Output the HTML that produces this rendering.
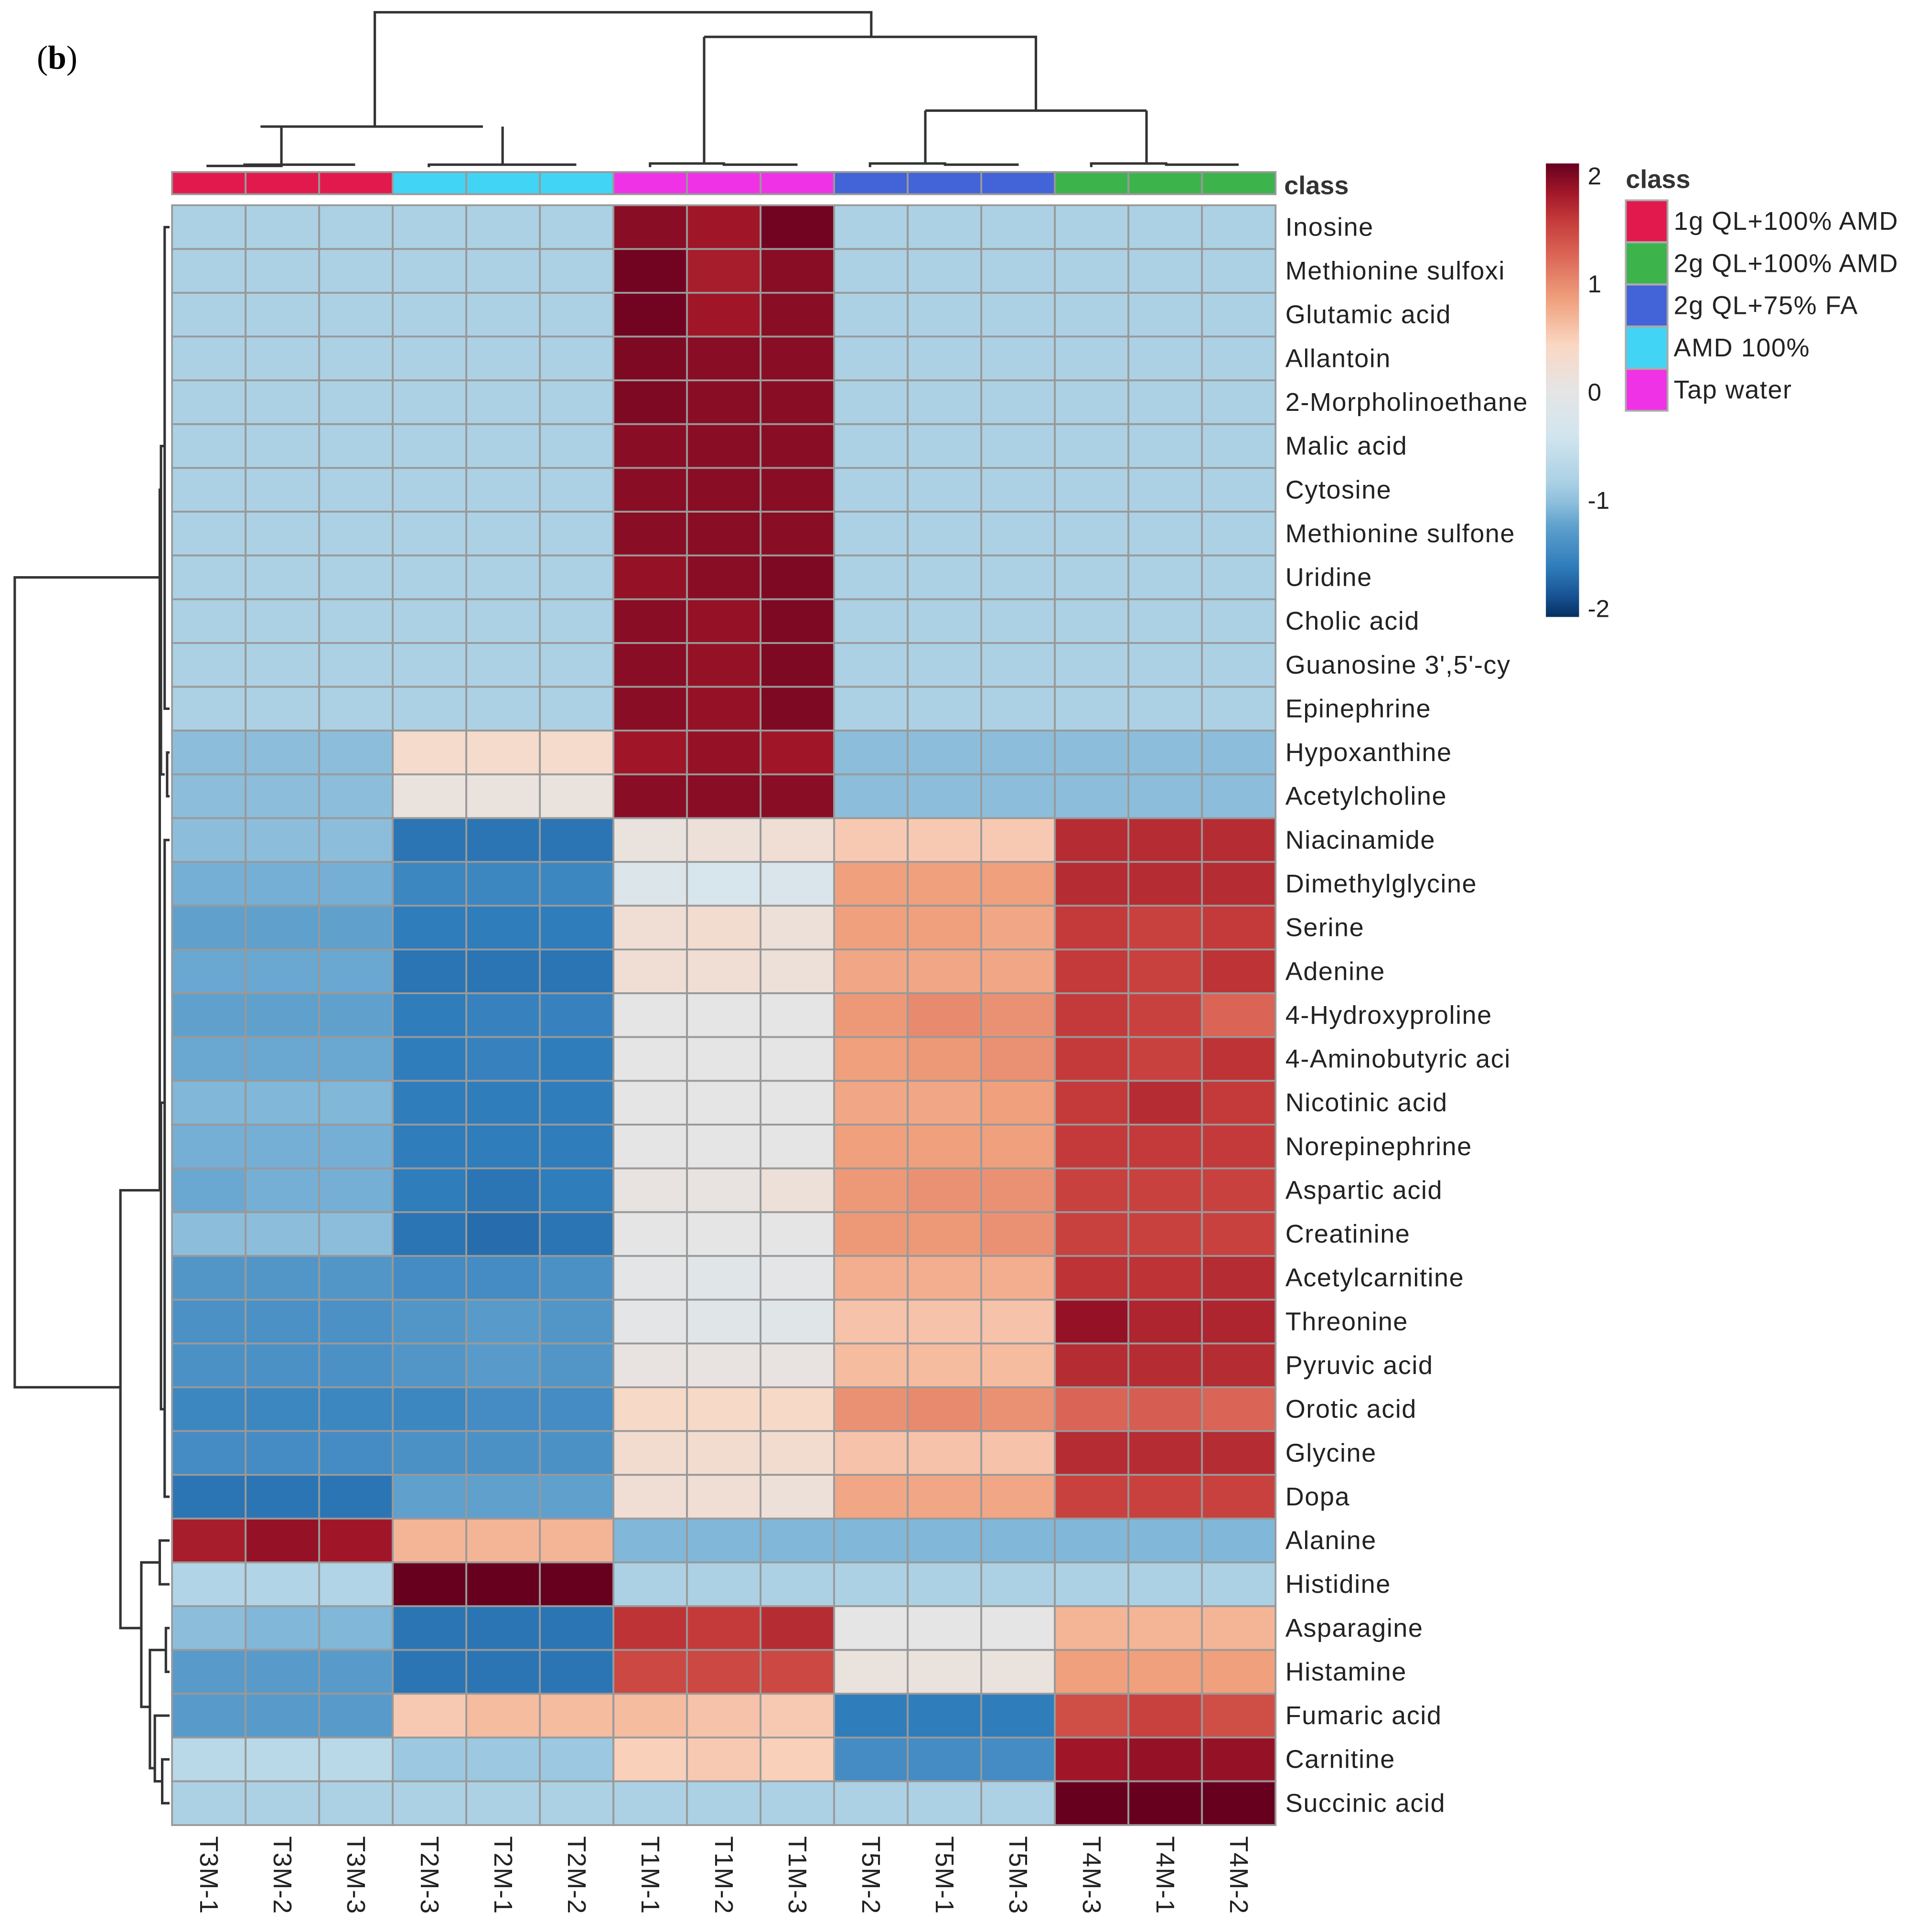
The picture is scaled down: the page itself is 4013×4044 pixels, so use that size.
<!DOCTYPE html>
<html><head><meta charset="utf-8"><style>
html,body{margin:0;padding:0;background:#fff;}
svg{display:block;}
text{font-family:"Liberation Sans",sans-serif;}
</style></head><body>
<svg id="chart" width="4013" height="4044" viewBox="0 0 1560 1572" preserveAspectRatio="none" xmlns="http://www.w3.org/2000/svg">
<text x="30" y="56" style="font-family:'Liberation Serif',serif" font-size="27">(<tspan font-weight="bold">b</tspan>)</text>
<g id="dendro-top" fill="none" stroke="#333" stroke-width="2">
<path d="M169,136 V135 H229 V136 M199,136 V134 H289 M229,134 V103 M349,136 V134 H409 V134 H469 M409,134 V103 M212,103 H393 M305,103 V10 H709 V30 M529,136 V133 H589 V134 H649 M573,133 V30 M573,30 H843 V90 M708,136 V133 H769 V134 H829 M753,133 V90 M888,136 V133 H949 V134 H1008 M933,133 V90 M753,90 H933"/>
</g>
<g id="dendro-left" fill="none" stroke="#333" stroke-width="2"></g>
<g id="classbar"></g>
<text x="1045" y="158" font-size="21" font-weight="bold" fill="#333">class</text>
<g id="cells"></g>
<g id="rowlabels"></g>
<g id="collabels"></g>
<g id="legend"></g>
<g id="classlegend"></g>
</svg>
<script>
const columns = ["T3M-1","T3M-2","T3M-3","T2M-3","T2M-1","T2M-2","T1M-1","T1M-2","T1M-3","T5M-2","T5M-1","T5M-3","T4M-3","T4M-1","T4M-2"];
const columnClass = [0,0,0,3,3,3,4,4,4,2,2,2,1,1,1];
const classNames = ["1g QL+100% AMD","2g QL+100% AMD","2g QL+75% FA","AMD 100%","Tap water"];
const classColors = ["#e2194d","#3cb44b","#4363d8","#42d4f4","#f032e6"];
const rows = ["Inosine","Methionine sulfoxi","Glutamic acid","Allantoin","2-Morpholinoethane","Malic acid","Cytosine","Methionine sulfone","Uridine","Cholic acid","Guanosine 3',5'-cy","Epinephrine","Hypoxanthine","Acetylcholine","Niacinamide","Dimethylglycine","Serine","Adenine","4-Hydroxyproline","4-Aminobutyric aci","Nicotinic acid","Norepinephrine","Aspartic acid","Creatinine","Acetylcarnitine","Threonine","Pyruvic acid","Orotic acid","Glycine","Dopa","Alanine","Histidine","Asparagine","Histamine","Fumaric acid","Carnitine","Succinic acid"];
const values = [
[-0.8,-0.8,-0.8,-0.8,-0.8,-0.8,1.85,1.75,1.95,-0.8,-0.8,-0.8,-0.8,-0.8,-0.8],
[-0.8,-0.8,-0.8,-0.8,-0.8,-0.8,1.95,1.7,1.85,-0.8,-0.8,-0.8,-0.8,-0.8,-0.8],
[-0.8,-0.8,-0.8,-0.8,-0.8,-0.8,1.95,1.75,1.85,-0.8,-0.8,-0.8,-0.8,-0.8,-0.8],
[-0.8,-0.8,-0.8,-0.8,-0.8,-0.8,1.9,1.85,1.85,-0.8,-0.8,-0.8,-0.8,-0.8,-0.8],
[-0.8,-0.8,-0.8,-0.8,-0.8,-0.8,1.9,1.85,1.85,-0.8,-0.8,-0.8,-0.8,-0.8,-0.8],
[-0.8,-0.8,-0.8,-0.8,-0.8,-0.8,1.85,1.85,1.85,-0.8,-0.8,-0.8,-0.8,-0.8,-0.8],
[-0.8,-0.8,-0.8,-0.8,-0.8,-0.8,1.85,1.85,1.85,-0.8,-0.8,-0.8,-0.8,-0.8,-0.8],
[-0.8,-0.8,-0.8,-0.8,-0.8,-0.8,1.85,1.85,1.85,-0.8,-0.8,-0.8,-0.8,-0.8,-0.8],
[-0.8,-0.8,-0.8,-0.8,-0.8,-0.8,1.8,1.85,1.9,-0.8,-0.8,-0.8,-0.8,-0.8,-0.8],
[-0.8,-0.8,-0.8,-0.8,-0.8,-0.8,1.85,1.8,1.9,-0.8,-0.8,-0.8,-0.8,-0.8,-0.8],
[-0.8,-0.8,-0.8,-0.8,-0.8,-0.8,1.85,1.8,1.9,-0.8,-0.8,-0.8,-0.8,-0.8,-0.8],
[-0.8,-0.8,-0.8,-0.8,-0.8,-0.8,1.85,1.8,1.9,-0.8,-0.8,-0.8,-0.8,-0.8,-0.8],
[-1.0,-1.0,-1.0,0.3,0.3,0.3,1.75,1.8,1.75,-1.0,-1.0,-1.0,-1.0,-1.0,-1.0],
[-1.0,-1.0,-1.0,0.1,0.1,0.1,1.85,1.85,1.85,-1.0,-1.0,-1.0,-1.0,-1.0,-1.0],
[-1.0,-1.0,-1.0,-1.6,-1.6,-1.6,0.1,0.15,0.2,0.5,0.5,0.5,1.6,1.6,1.6],
[-1.1,-1.1,-1.1,-1.45,-1.45,-1.45,-0.2,-0.3,-0.25,0.8,0.8,0.8,1.6,1.6,1.6],
[-1.2,-1.2,-1.2,-1.55,-1.55,-1.55,0.2,0.25,0.15,0.8,0.8,0.75,1.5,1.45,1.5],
[-1.15,-1.15,-1.15,-1.6,-1.6,-1.6,0.2,0.2,0.15,0.75,0.75,0.75,1.5,1.45,1.55],
[-1.2,-1.2,-1.2,-1.55,-1.5,-1.5,0.0,0.0,0.0,0.85,0.95,0.9,1.5,1.45,1.2],
[-1.15,-1.15,-1.15,-1.55,-1.5,-1.55,0.0,0.0,0.0,0.8,0.85,0.9,1.5,1.45,1.55],
[-1.05,-1.05,-1.05,-1.55,-1.55,-1.55,0.0,0.0,0.0,0.75,0.75,0.8,1.5,1.6,1.5],
[-1.1,-1.1,-1.1,-1.55,-1.55,-1.55,0.0,0.0,0.0,0.8,0.8,0.8,1.5,1.5,1.5],
[-1.15,-1.1,-1.1,-1.55,-1.6,-1.55,0.05,0.05,0.15,0.85,0.9,0.9,1.45,1.45,1.45],
[-1.0,-1.0,-1.0,-1.6,-1.65,-1.6,0.0,0.0,0.0,0.85,0.85,0.9,1.45,1.45,1.45],
[-1.3,-1.3,-1.3,-1.4,-1.4,-1.35,-0.05,-0.1,-0.05,0.7,0.7,0.7,1.55,1.55,1.6],
[-1.35,-1.35,-1.35,-1.3,-1.25,-1.3,-0.05,-0.1,-0.1,0.55,0.55,0.55,1.8,1.65,1.65],
[-1.35,-1.35,-1.35,-1.3,-1.25,-1.3,0.05,0.05,0.05,0.6,0.6,0.6,1.6,1.6,1.6],
[-1.45,-1.45,-1.45,-1.45,-1.4,-1.4,0.35,0.35,0.35,0.9,0.95,0.9,1.2,1.25,1.2],
[-1.4,-1.4,-1.4,-1.35,-1.35,-1.35,0.25,0.25,0.25,0.55,0.55,0.55,1.6,1.6,1.6],
[-1.6,-1.6,-1.6,-1.2,-1.2,-1.2,0.2,0.2,0.15,0.75,0.75,0.75,1.45,1.45,1.45],
[1.7,1.8,1.75,0.65,0.65,0.65,-1.05,-1.05,-1.05,-1.05,-1.05,-1.05,-1.05,-1.05,-1.05],
[-0.75,-0.75,-0.75,2.0,2.1,2.0,-0.8,-0.8,-0.8,-0.8,-0.8,-0.8,-0.8,-0.8,-0.8],
[-1.0,-1.05,-1.05,-1.6,-1.6,-1.6,1.55,1.5,1.6,0.0,0.0,0.0,0.65,0.65,0.65],
[-1.25,-1.25,-1.25,-1.6,-1.6,-1.6,1.4,1.4,1.4,0.1,0.1,0.1,0.8,0.8,0.8],
[-1.25,-1.25,-1.25,0.5,0.6,0.6,0.6,0.55,0.5,-1.55,-1.55,-1.55,1.35,1.45,1.35],
[-0.65,-0.65,-0.65,-0.9,-0.9,-0.9,0.45,0.5,0.45,-1.4,-1.4,-1.4,1.75,1.8,1.8],
[-0.8,-0.8,-0.8,-0.8,-0.8,-0.8,-0.8,-0.8,-0.8,-0.8,-0.8,-0.8,2.1,2.05,2.1]
];
const legendTicks = [2,1,0,-1,-2];

const NS="http://www.w3.org/2000/svg";
const X0=140, X1=1038, Y0=167, Y1=1485;
const cw=(X1-X0)/columns.length, rh=(Y1-Y0)/rows.length;
const xPos=i=>X0+i*cw, yPos=j=>Y0+j*rh;
const stops=[[-2,[5,48,97]],[-1.8,[25,85,150]],[-1.55,[48,125,188]],[-1.2,[95,160,205]],[-1.0,[140,190,220]],[-0.8,[172,209,229]],[-0.4,[210,229,238]],[0,[229,229,229]],[0.4,[250,215,195]],[0.8,[240,160,125]],[1.2,[218,100,85]],[1.5,[196,58,58]],[1.75,[160,22,40]],[2,[103,0,31]]];
function color(v){v=Math.max(-2,Math.min(2,v));for(let k=0;k<stops.length-1;k++){const a=stops[k],b=stops[k+1];if(v<=b[0]){const t=(v-a[0])/(b[0]-a[0]);const c=a[1].map((x,i)=>Math.round(x+(b[1][i]-x)*t));return `rgb(${c})`;}}return "rgb(103,0,31)";}
function mk(tag,attrs,parent){const e=document.createElementNS(NS,tag);for(const k in attrs)e.setAttribute(k,attrs[k]);parent.appendChild(e);return e;}

const cells=document.getElementById('cells');
values.forEach((row,j)=>row.forEach((v,i)=>{
 const r=mk('rect',{x:xPos(i),y:yPos(j),width:cw,height:rh,fill:color(v),stroke:'#999','stroke-width':1.5},cells);
 
 
}));
const cb=document.getElementById('classbar');
columnClass.forEach((c,i)=>{
 const r=mk('rect',{x:xPos(i),y:140,width:cw,height:18,fill:classColors[c],stroke:'#999','stroke-width':1.5},cb);
 
 
});
const rl=document.getElementById('rowlabels');
rows.forEach((n,j)=>{
 const t=mk('text',{x:1046,y:yPos(j)+rh/2+7,'font-size':21,'letter-spacing':0.6,fill:'#222'},rl);
 t.textContent=n;
 
 
});
const cl=document.getElementById('collabels');
columns.forEach((n,i)=>{
 const cx=xPos(i)+cw/2-7, y=1494;
 const t=mk('text',{x:cx,y:y,'font-size':21,'letter-spacing':0.6,fill:'#222',transform:`rotate(90 ${cx} ${y})`},cl);
 t.textContent=n;
 
 
});
const lg=document.getElementById('legend');
const defs=mk('defs',{},lg);
const grad=mk('linearGradient',{id:'cg',x1:0,y1:0,x2:0,y2:1},defs);
stops.slice().reverse().forEach(s=>mk('stop',{offset:(2-s[0])/4,'stop-color':color(s[0])},grad));
const LB0=133, LB1=502;
const lr=mk('rect',{x:1258,y:LB0,width:27,height:LB1-LB0,fill:'url(#cg)'},lg);


legendTicks.forEach(v=>{
 const y=LB0+10+(2-v)/4*(LB1-LB0-17);
 const t=mk('text',{x:1292,y:y+7,'font-size':20,fill:'#222'},lg);
 t.textContent=v;
 
 
});
const cg=document.getElementById('classlegend');
const ct=mk('text',{x:1323,y:153,'font-size':21,'font-weight':'bold',fill:'#333'},cg);
ct.textContent='class';


classNames.forEach((n,k)=>{
 const y=163+k*34.3;
 const r=mk('rect',{x:1323,y:y,width:34,height:34,fill:classColors[k],stroke:'#aaa','stroke-width':1.5},cg);
 
 
 const t=mk('text',{x:1362,y:y+24,'font-size':21,'letter-spacing':0.6,fill:'#222'},cg);
 t.textContent=n;
 
 
});
const dl=document.getElementById('dendro-left');
const ry=j=>yPos(j)+rh/2;
const dp=[
 `M138,${ry(0)} H134 V${ry(11)} H138`, `M134,${ry(5)} H131 V${ry(12.5)} H134`, `M138,${ry(12)} H136 V${ry(13)} H138`,
 `M138,${ry(14)} H134 V${ry(29)} H138`, `M134,${ry(20)} H131 V${ry(27)} H134`,
 `M132,${ry(6)} H130 V${ry(22)} H132`,
 `M138,${ry(30)} H130 V${ry(31)} H138`, `M130,${ry(30.5)} H115 V${ry(33.8)} H123`,
 `M138,${ry(32)} H135 V${ry(33)} H138`, `M135,${ry(32.5)} H122 V${ry(35.2)} H126`,
 `M138,${ry(35)} H132 V${ry(36)} H138`, `M132,${ry(35.5)} H126 V${ry(34)} H138`,
 `M131,${ry(22)} H98 V${ry(32)} H115`,
 `M130,${ry(8)} H12 V${ry(26.5)} H98`
];
dp.forEach(d=>mk('path',{d:d},dl));
</script>
</body></html>
